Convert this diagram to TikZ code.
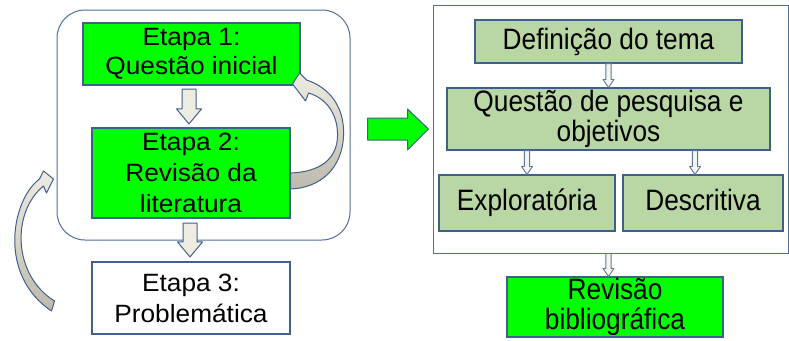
\documentclass[tikz,border=0pt]{standalone}
\usepackage{fontspec}
\setmainfont{Liberation Sans}
\newfontfamily\lfont[FakeStretch=1.05]{Liberation Sans}
\newfontfamily\rfont[FakeStretch=0.89]{Liberation Sans}
\usetikzlibrary{calc}

\definecolor{brightgreen}{HTML}{00FF00}
\definecolor{palegreen}{HTML}{B9D7A5}
\definecolor{edgeblue}{HTML}{3F5F8C}
\definecolor{frameblue}{HTML}{4F6F9C}
\definecolor{arrowfill}{HTML}{EEECE1}
\definecolor{arrowshade}{HTML}{BDB9AD}

\tikzset{
  lefttext/.style={font=\lfont\fontsize{25}{31}\selectfont, align=center, text=black},
  righttext/.style={font=\rfont\fontsize{29.5}{30}\selectfont, align=center, text=black},
  stage/.style={draw=edgeblue, line width=1.1pt, inner sep=0pt, lefttext},
  greenstage/.style={stage, fill=brightgreen},
  whitestage/.style={stage, fill=white},
  topicbox/.style={draw=edgeblue, line width=1.1pt, inner sep=0pt, fill=palegreen, righttext},
  framebox/.style={draw=frameblue, line width=1pt, inner sep=0pt},
  bigarrow/.style={draw=edgeblue, line width=1pt, fill=arrowfill, line join=round},
  thinarrow/.style={draw=edgeblue!85, line width=0.9pt, fill=arrowfill!60, line join=round},
  curvedarrow/.style={draw=edgeblue, line width=1pt, top color=arrowfill, bottom color=arrowshade, line join=round},
}

% vertical block arrow: style, from, to, half shaft, half head, head length, gap, x reference
\newcommand\blockdown[8]{%
  \path[#1] let \p1=(#2.south), \p2=(#3.north), \p3=(#8) in
    (\x3-#4,\y1-#7) -- (\x3+#4,\y1-#7) -- (\x3+#4,\y2+#7+#6) -- (\x3+#5,\y2+#7+#6)
    -- (\x3,\y2+#7) -- (\x3-#5,\y2+#7+#6) -- (\x3-#4,\y2+#7+#6) -- cycle;}

\begin{document}
\begin{tikzpicture}[x=1pt, y=-1pt]
\useasboundingbox (0,0) rectangle (789,340);

% left column
\node[framebox, rounded corners=28pt, minimum width=293pt, minimum height=230pt] (lframe) at (203.5,125) {};
\node[greenstage, minimum width=217pt, minimum height=62pt, font=\lfont\fontsize{25}{29}\selectfont] (e1) at (191.5,54) {Etapa 1:\\Questão inicial};
\node[greenstage, minimum width=198pt, minimum height=90pt] (e2) at (191,173) {Etapa 2:\\Revisão da\\literatura};
\node[whitestage, minimum width=198pt, minimum height=72pt] (e3) at (191,298) {Etapa 3:\\Problemática};

% right column
\node[framebox, minimum width=355pt, minimum height=248pt] (rframe) at (610.5,129) {};
\node[topicbox, minimum width=267pt, minimum height=43pt] (def) at (608.5,41.5) {Definição do tema};
\node[topicbox, minimum width=323pt, minimum height=62pt] (ques) at (608.5,119) {Questão de pesquisa e\\objetivos};
\node[topicbox, minimum width=176pt, minimum height=56pt] (expl) at (527,203) {Exploratória};
\node[topicbox, minimum width=160pt, minimum height=56pt] (desc) at (703,203) {Descritiva\vphantom{p}};
\node[topicbox, fill=brightgreen, minimum width=216pt, minimum height=60pt] (rev) at (615,307) {Revisão\\bibliográfica};

% straight block arrows
\blockdown{bigarrow}{e1}{e2}{7pt}{12.5pt}{15pt}{3.5pt}{[xshift=-2pt]e2.north}
\blockdown{bigarrow}{e2}{e3}{7pt}{12.5pt}{15pt}{4.5pt}{[xshift=-1pt]e3.north}
\blockdown{thinarrow}{def}{ques}{2.6pt}{5.5pt}{8pt}{0pt}{def.south}
\blockdown{thinarrow}{ques}{expl}{2.6pt}{5.5pt}{8pt}{0pt}{expl.north}
\blockdown{thinarrow}{ques}{desc}{2.6pt}{5.5pt}{8pt}{0pt}{[xshift=-8pt]desc.north}
\blockdown{thinarrow}{rframe}{rev}{2.6pt}{5.5pt}{8pt}{0pt}{def.south}

% green arrow between the two columns
\path[draw=edgeblue, line width=1pt, fill=brightgreen, line join=round]
  let \p1=(lframe.east), \p2=(rframe.west) in
  (\x1+17pt,\y2+11pt) -- (\x2-25pt,\y2+11pt) -- (\x2-25pt,\y2+20pt) -- (\x2-4pt,\y2)
  -- (\x2-25pt,\y2-21pt) -- (\x2-25pt,\y2-11pt) -- (\x1+17pt,\y2-11pt) -- cycle;

% curved return arrow from stage 2 back to stage 1
\begin{scope}[shift={(e2.east)}]
  \path[curvedarrow]
    (2,-89) -- (9,-100) -- (16,-93)
    .. controls (40,-85) and (54,-65) .. (53,-38)
    .. controls (52,-5) and (30,15) .. (0,16)
    -- (0,0)
    .. controls (28,-1) and (47,-13) .. (47,-38)
    .. controls (47,-60) and (35,-75) .. (18,-80)
    -- (15,-72) -- cycle;
\end{scope}

% curved arrow from stage 3 back into the loop
\begin{scope}[shift={(lframe.west)}]
  \path[curvedarrow]
    (-3,54) -- (-13,46) -- (-17,54)
    .. controls (-45,75) and (-59,150) .. (-5,186)
    -- (-2,176)
    .. controls (-44,150) and (-45,87) .. (-13,61)
    -- (-10,68) -- cycle;
\end{scope}
\end{tikzpicture}
\end{document}
